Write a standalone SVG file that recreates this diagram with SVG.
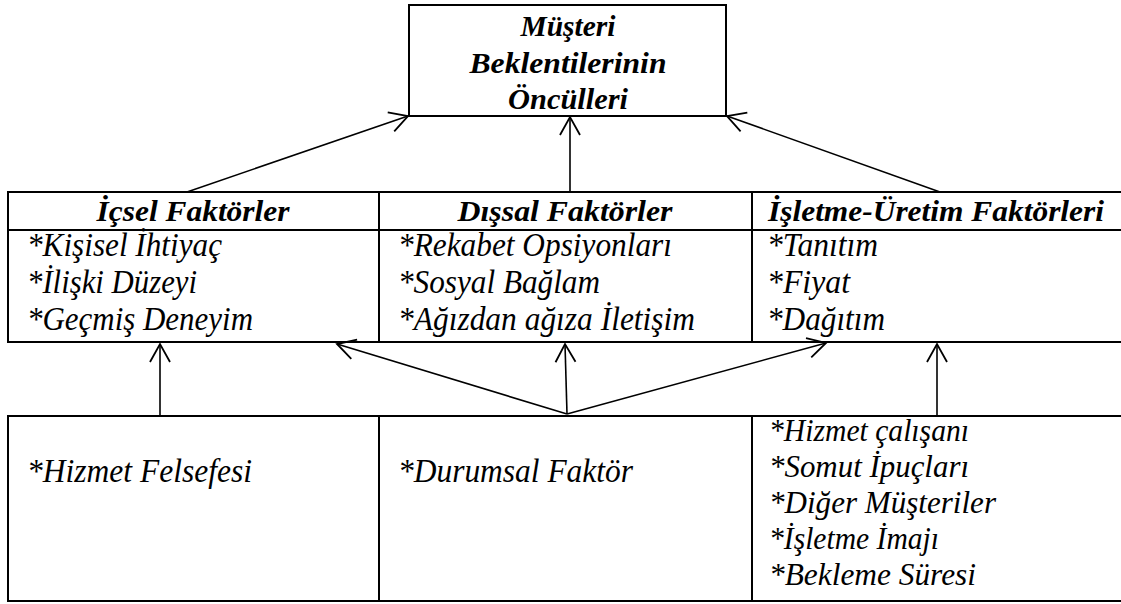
<svg xmlns="http://www.w3.org/2000/svg" width="1121" height="604" viewBox="0 0 1121 604">
<defs>
<marker id="ah" markerUnits="userSpaceOnUse" markerWidth="24" markerHeight="24" viewBox="-20 -12 24 24" refX="0" refY="0" orient="auto">
<path d="M-18,-10 L0,0 L-18,10" fill="none" stroke="#000" stroke-width="1.8"/>
</marker>
</defs>
<rect width="1121" height="604" fill="#fff"/>
<g id="top">
<rect x="409" y="5" width="317" height="111" fill="none" stroke="#000" stroke-width="2"/>
<text x="568" y="36" font-family="Liberation Serif, serif" font-style="italic" font-weight="bold" font-size="30" text-anchor="middle" textLength="95" lengthAdjust="spacingAndGlyphs">Müşteri</text>
<text x="568" y="73" font-family="Liberation Serif, serif" font-style="italic" font-weight="bold" font-size="30" text-anchor="middle" textLength="197" lengthAdjust="spacingAndGlyphs">Beklentilerinin</text>
<text x="568" y="109" font-family="Liberation Serif, serif" font-style="italic" font-weight="bold" font-size="30" text-anchor="middle" textLength="120" lengthAdjust="spacingAndGlyphs">Öncülleri</text>
</g>
<g id="factors-table">
<path d="M7,192 H1121 M7,230 H1121 M7,342 H1121 M8,192 V342 M379,192 V342 M752,192 V342" fill="none" stroke="#000" stroke-width="2"/>
</g>
<g id="icsel" font-family="Liberation Serif, serif" font-style="italic" font-size="34">
<text x="193" y="221" font-weight="bold" font-size="30" text-anchor="middle" textLength="193" lengthAdjust="spacingAndGlyphs">İçsel Faktörler</text>
<text x="27" y="256" textLength="195" lengthAdjust="spacingAndGlyphs">*Kişisel İhtiyaç</text>
<text x="27" y="293" textLength="170" lengthAdjust="spacingAndGlyphs">*İlişki Düzeyi</text>
<text x="27" y="330" textLength="226" lengthAdjust="spacingAndGlyphs">*Geçmiş Deneyim</text>
</g>
<g id="dissal" font-family="Liberation Serif, serif" font-style="italic" font-size="34">
<text x="565" y="221" font-weight="bold" font-size="30" text-anchor="middle" textLength="215" lengthAdjust="spacingAndGlyphs">Dışsal Faktörler</text>
<text x="398" y="256" textLength="274" lengthAdjust="spacingAndGlyphs">*Rekabet Opsiyonları</text>
<text x="398" y="293" textLength="202" lengthAdjust="spacingAndGlyphs">*Sosyal Bağlam</text>
<text x="398" y="330" textLength="297" lengthAdjust="spacingAndGlyphs">*Ağızdan ağıza İletişim</text>
</g>
<g id="isletme" font-family="Liberation Serif, serif" font-style="italic" font-size="34">
<text x="936" y="221" font-weight="bold" font-size="30" text-anchor="middle" textLength="336" lengthAdjust="spacingAndGlyphs">İşletme-Üretim Faktörleri</text>
<text x="767" y="256" textLength="111" lengthAdjust="spacingAndGlyphs">*Tanıtım</text>
<text x="767" y="293" textLength="83" lengthAdjust="spacingAndGlyphs">*Fiyat</text>
<text x="767" y="330" textLength="118" lengthAdjust="spacingAndGlyphs">*Dağıtım</text>
</g>
<g id="bottom-table">
<path d="M7,416 H1121 M7,601 H1121 M8,416 V601 M379,416 V601 M752,416 V601" fill="none" stroke="#000" stroke-width="2"/>
</g>
<g id="hizmet-felsefesi" font-family="Liberation Serif, serif" font-style="italic" font-size="34">
<text x="27" y="482" textLength="225" lengthAdjust="spacingAndGlyphs">*Hizmet Felsefesi</text>
</g>
<g id="durumsal" font-family="Liberation Serif, serif" font-style="italic" font-size="34">
<text x="398" y="482" textLength="235" lengthAdjust="spacingAndGlyphs">*Durumsal Faktör</text>
</g>
<g id="hizmet-list" font-family="Liberation Serif, serif" font-style="italic" font-size="32">
<text x="769" y="441" textLength="200" lengthAdjust="spacingAndGlyphs">*Hizmet çalışanı</text>
<text x="769" y="477" textLength="200" lengthAdjust="spacingAndGlyphs">*Somut İpuçları</text>
<text x="769" y="513" textLength="227" lengthAdjust="spacingAndGlyphs">*Diğer Müşteriler</text>
<text x="769" y="549" textLength="170" lengthAdjust="spacingAndGlyphs">*İşletme İmajı</text>
<text x="769" y="585" textLength="207" lengthAdjust="spacingAndGlyphs">*Bekleme Süresi</text>
</g>
<g id="connectors" fill="none" stroke="#000" stroke-width="1.6" marker-end="url(#ah)">
<line x1="187" y1="192" x2="408" y2="116"/>
<line x1="570" y1="192" x2="570" y2="117"/>
<line x1="940" y1="192" x2="727" y2="116"/>
<line x1="160" y1="416" x2="160" y2="344"/>
<line x1="567" y1="414" x2="337" y2="344"/>
<line x1="567" y1="414" x2="565" y2="344"/>
<line x1="567" y1="414" x2="826" y2="343"/>
<line x1="937" y1="416" x2="937" y2="344"/>
</g>
</svg>
